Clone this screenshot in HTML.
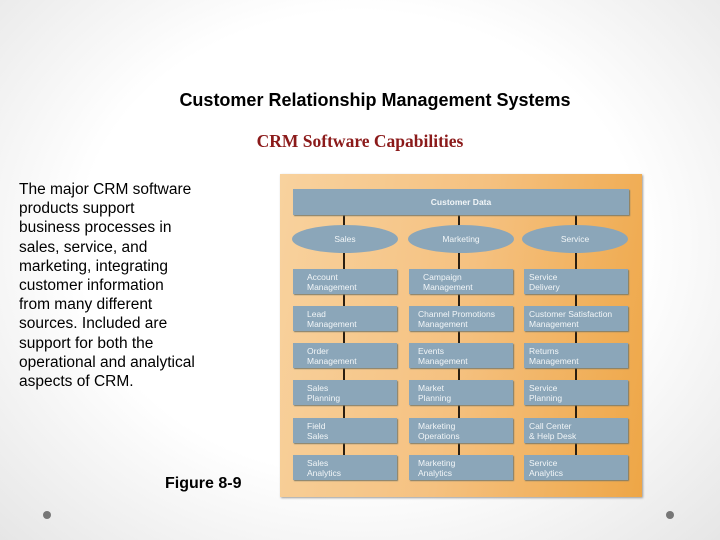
<!DOCTYPE html>
<html><head><meta charset="utf-8"><style>
body{margin:0;width:720px;height:540px;overflow:hidden;background:radial-gradient(ellipse at 50% 45%,#fff 55%,#e6e6e6 100%);font-family:"Liberation Sans",sans-serif;position:relative}
.a{position:absolute}
.t1{left:0;width:750px;text-align:center;top:90px;font-size:18px;font-weight:bold;color:#000}
.t2{left:0;width:720px;text-align:center;top:131px;font-family:"Liberation Serif",serif;font-size:17.5px;font-weight:bold;color:#8b1a1a}
.body{left:19px;top:180px;width:180px;font-size:15.5px;line-height:19.2px;color:#000}
.fig{left:165px;top:475px;font-size:16px;font-weight:bold}
.panel{left:280px;top:174px;width:362px;height:323px;background:linear-gradient(100deg,#f8d29e,#f5c180 50%,#eea646);box-shadow:1px 1px 2px #999}
.bx{position:absolute;background:#8ba6b9;color:#f2f6f8;font-size:8.5px;line-height:10px;padding:3px 0 0 14px;box-sizing:border-box;width:104px;height:25px;box-shadow:1px 1px 1px #7a7a6a}
.ln{position:absolute;width:2px;background:#2a1e10}
.el{position:absolute;background:#8ba6b9;border-radius:50%;color:#f2f6f8;font-size:8.5px;text-align:center;line-height:28px;height:28px;width:106px;top:225px}
.dot{width:8px;height:8px;border-radius:50%;background:#777}
</style></head><body>
<div class="a t1">Customer Relationship Management Systems</div>
<div class="a t2">CRM Software Capabilities</div>
<div class="a body">The major CRM software products support business processes in sales, service, and marketing, integrating customer information from many different sources. Included are support for both the operational and analytical aspects of CRM.</div>
<div class="a fig">Figure 8-9</div>
<div class="a panel"></div>
<div class="ln" style="left:343px;top:215px;height:252px"></div>
<div class="ln" style="left:458px;top:215px;height:252px"></div>
<div class="ln" style="left:575px;top:215px;height:252px"></div>
<div class="bx" style="left:293px;top:189px;width:336px;height:26px;text-align:center;padding:8px 0 0;font-weight:bold">Customer Data</div>
<div class="el" style="left:292px">Sales</div>
<div class="el" style="left:408px">Marketing</div>
<div class="el" style="left:522px">Service</div>
<div class="bx" style="left:293px;top:269px">Account<br>Management</div>
<div class="bx" style="left:409px;top:269px">Campaign<br>Management</div>
<div class="bx" style="left:524px;top:269px;padding-left:5px">Service<br>Delivery</div>
<div class="bx" style="left:293px;top:306px">Lead<br>Management</div>
<div class="bx" style="left:409px;top:306px;padding-left:9px">Channel Promotions<br>Management</div>
<div class="bx" style="left:524px;top:306px;padding-left:5px">Customer Satisfaction<br>Management</div>
<div class="bx" style="left:293px;top:343px">Order<br>Management</div>
<div class="bx" style="left:409px;top:343px;padding-left:9px">Events<br>Management</div>
<div class="bx" style="left:524px;top:343px;padding-left:5px">Returns<br>Management</div>
<div class="bx" style="left:293px;top:380px">Sales<br>Planning</div>
<div class="bx" style="left:409px;top:380px;padding-left:9px">Market<br>Planning</div>
<div class="bx" style="left:524px;top:380px;padding-left:5px">Service<br>Planning</div>
<div class="bx" style="left:293px;top:418px">Field<br>Sales</div>
<div class="bx" style="left:409px;top:418px;padding-left:9px">Marketing<br>Operations</div>
<div class="bx" style="left:524px;top:418px;padding-left:5px">Call Center<br>&amp; Help Desk</div>
<div class="bx" style="left:293px;top:455px">Sales<br>Analytics</div>
<div class="bx" style="left:409px;top:455px;padding-left:9px">Marketing<br>Analytics</div>
<div class="bx" style="left:524px;top:455px;padding-left:5px">Service<br>Analytics</div>
<div class="a dot" style="left:43px;top:511px"></div>
<div class="a dot" style="left:666px;top:511px"></div>
</body></html>
